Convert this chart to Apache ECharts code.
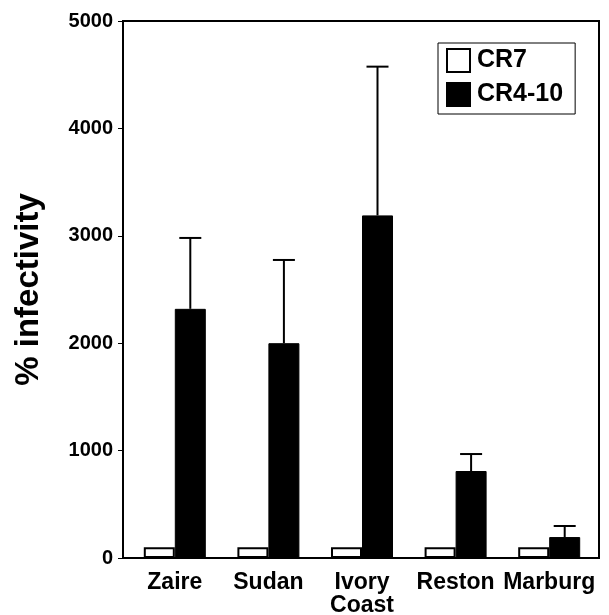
<!DOCTYPE html>
<html>
<head>
<meta charset="utf-8">
<script src="https://cdn.jsdelivr.net/npm/echarts@6/dist/echarts.min.js"></script>
<style>
  html, body { margin: 0; padding: 0; background: #fff; }
</style>
</head>
<body>
<!-- chart container, same size as the reference -->
<div id="main" style="width: 609px;height:615px;"></div>
<script>
// data
var categories = ['Zaire', 'Sudan', 'Ivory\nCoast', 'Reston', 'Marburg'];
var cr7 = [100, 100, 100, 100, 100];
var cr410 = [2320, 2000, 3190, 810, 195];
var cr410Upper = [2980, 2775, 4575, 968, 298];
var yTicks = [0, 1000, 2000, 3000, 4000, 5000];

var font = '"Liberation Sans", Arial, sans-serif';
var barW = 31;

var myChart = echarts.init(document.getElementById('main'));

var option = {
  animation: false,
  backgroundColor: '#fff',
  grid: [
    // frame grid (draws the box and the y axis)
    { left: 123, right: 10, top: 21, bottom: 57, outerBoundsMode: 'none', show: true, borderColor: '#000', borderWidth: 2, backgroundColor: 'transparent' },
    // bars grid (slightly inset, like the original)
    { left: 128, right: 13, top: 21, bottom: 57, outerBoundsMode: 'none' }
  ],
  legend: {
    data: ['CR7', 'CR4-10'],
    orient: 'vertical',
    left: 438,
    top: 43,
    padding: [5, 12, 7, 8],
    itemGap: 9,
    itemWidth: 23,
    itemHeight: 23,
    icon: 'rect',
    borderColor: '#000',
    borderWidth: 1,
    backgroundColor: '#fff',
    textStyle: { fontFamily: font, fontWeight: 'bold', fontSize: 25, color: '#000', padding: [0, 0, 0, 2] }
  },
  xAxis: [
    {
      type: 'category', gridIndex: 0, data: categories,
      axisLine: { lineStyle: { color: '#000', width: 2 } },
      axisTick: { show: false }, axisLabel: { show: false }
    },
    {
      type: 'category', gridIndex: 1, data: categories,
      axisLine: { show: false }, axisTick: { show: false },
      axisLabel: { fontFamily: font, fontWeight: 'bold', fontSize: 23, color: '#000', margin: 13, lineHeight: 23, interval: 0 }
    }
  ],
  yAxis: [
    {
      type: 'value', gridIndex: 0, min: 0, max: 5000, interval: 1000,
      name: '% infectivity', nameLocation: 'middle', nameGap: 78,
      nameTextStyle: { fontFamily: font, fontWeight: 'bold', fontSize: 33, color: '#000' },
      axisLine: { show: true, lineStyle: { color: '#000', width: 2 } },
      axisTick: { show: true, length: 5, lineStyle: { color: '#000', width: 1 } },
      axisLabel: {
        fontFamily: font, fontWeight: 'bold', fontSize: 20, color: '#000', margin: 10,
        formatter: function (v) { return yTicks.indexOf(v) >= 0 ? String(v) : ''; }
      },
      splitLine: { show: false }
    },
    {
      type: 'value', gridIndex: 1, min: 0, max: 5000, interval: 1000,
      axisLine: { show: false }, axisTick: { show: false }, axisLabel: { show: false },
      splitLine: { show: false }
    }
  ],
  series: [
    {
      name: 'CR7', type: 'bar', xAxisIndex: 1, yAxisIndex: 1,
      barWidth: barW, barGap: '0%',
      data: cr7,
      itemStyle: { color: '#fff', borderColor: '#000', borderWidth: 2 }
    },
    {
      name: 'CR4-10', type: 'bar', xAxisIndex: 1, yAxisIndex: 1,
      barWidth: barW, barGap: '0%',
      data: cr410,
      itemStyle: { color: '#000', borderColor: '#000', borderWidth: 1 }
    },
    {
      // upward error bars on the CR4-10 bars
      type: 'custom', xAxisIndex: 1, yAxisIndex: 1, silent: true, z: 5,
      data: cr410.map(function (v, i) { return [i, v, cr410Upper[i]]; }),
      renderItem: function (params, api) {
        var lo = api.coord([api.value(0), api.value(1)]);
        var hi = api.coord([api.value(0), api.value(2)]);
        var x = lo[0] + barW / 2;
        var half = 11;
        var st = { stroke: '#000', lineWidth: 2 };
        return {
          type: 'group',
          children: [
            { type: 'line', shape: { x1: x, y1: lo[1], x2: x, y2: hi[1] }, style: st },
            { type: 'line', shape: { x1: x - half, y1: hi[1], x2: x + half, y2: hi[1] }, style: st }
          ]
        };
      }
    }
  ]
};

option && myChart.setOption(option);
</script>
</body>
</html>
